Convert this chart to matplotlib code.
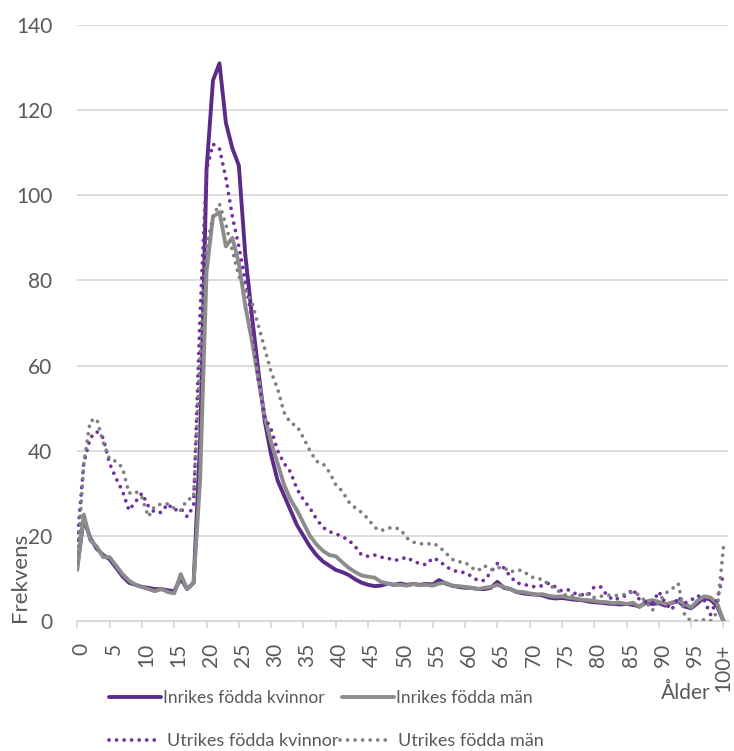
import numpy as np
import matplotlib.pyplot as plt
from matplotlib.transforms import ScaledTranslation

plt.rcParams['font.family'] = ['Lato', 'DejaVu Sans']

# Ages 0..100 (100 = 100+)
ages = np.arange(101)
tick_ages = list(range(0, 101, 5))
tick_labels = [str(a) for a in range(0, 100, 5)] + ['100+']

# Inrikes födda kvinnor
inrikes_kvinnor = [
    13, 24, 19.5, 17, 15.5, 14.5, 12.5, 10.5, 9, 8.5,
    8, 7.8, 7.5, 7.5, 7.2, 7, 10, 7.5, 9, 42,
    106, 127, 131, 117, 111, 107, 86, 72, 59, 47,
    39, 33, 29.5, 26, 22.5, 20, 17.5, 15.5, 14, 13,
    12, 11.5, 10.8, 9.8, 9, 8.5, 8.2, 8.3, 8.8, 8.5,
    8.8, 8.5, 8.7, 8.5, 8.7, 8.6, 9.6, 8.8, 8.3, 8.0,
    7.8, 7.8, 7.5, 7.5, 7.8, 9.2, 7.8, 7.5, 6.8, 6.5,
    6.3, 6.2, 6.0, 5.5, 5.3, 5.4, 5.2, 5.0, 4.9, 4.6,
    4.4, 4.3, 4.1, 4.0, 3.9, 4.0, 3.8, 3.4, 4.3, 4.0,
    4.2, 3.6, 4.3, 4.6, 3.4, 3.0, 4.2, 5.5, 5.0, 3.5,
    0]

# Inrikes födda män
inrikes_man = [
    12, 25, 19, 17.5, 15, 15, 13, 11, 9.5, 8.5,
    8, 7.5, 7, 7.5, 6.8, 6.5, 11, 7.5, 9, 33,
    82, 95, 96, 88, 90, 84, 74, 66, 57, 48,
    42, 37, 32, 28.5, 26, 23, 20, 18, 16.5, 15.5,
    15.2, 13.8, 12.5, 11.5, 10.7, 10.4, 10.2, 9.2, 8.8, 8.5,
    8.5, 8.3, 8.7, 8.4, 8.5, 8.3, 8.8, 9.0, 8.3, 8.2,
    8.0, 7.8, 7.5, 7.8, 8.0, 8.5, 8.0, 7.5, 6.9, 6.8,
    6.5, 6.2, 6.3, 5.9, 5.7, 5.8, 5.5, 5.3, 5.0, 4.9,
    4.7, 4.5, 4.4, 4.2, 4.3, 4.0, 4.3, 3.3, 4.6, 4.9,
    4.5, 4.0, 4.2, 4.8, 4.0, 3.2, 4.8, 5.8, 5.5, 4.2,
    0]

# Utrikes födda kvinnor
utrikes_kvinnor = [
    19, 37, 43, 44.5, 43, 37, 33.5, 30.5, 26, 28,
    30, 27, 25.5, 25.5, 27.5, 26, 26.5, 24.5, 27, 72,
    106, 112, 111, 104, 95, 88, 80, 71, 57, 48,
    45, 40, 37, 35, 31, 28.5, 26.5, 24, 22, 21,
    20.5, 19.8, 19, 17.5, 15.5, 15.2, 15.5, 15, 14.8, 14.2,
    14.5, 15, 14, 13.5, 13.2, 14.8, 14.2, 12.8, 12, 11.5,
    11.4, 10.5, 9.5, 9.5, 11.5, 13.5, 12.5, 10.5, 8.9, 8.7,
    8.2, 8, 8.3, 8.9, 8.0, 7.0, 7.3, 6.5, 6.2, 6.0,
    8.0, 8.0, 6.0, 4.9, 5.5, 6.0, 7.5, 5.0, 4.5, 4.2,
    6.9, 4.2, 2.6, 5.7, 4.2, 4.9, 6.0, 5.0, 1.5, 5.0,
    11]

# Utrikes födda män
utrikes_man = [
    14, 37, 47, 47.5, 42, 38, 37.5, 36, 30, 30.5,
    29, 24.5, 27, 27.5, 27.5, 26.5, 26, 28.5, 29, 62,
    88, 95, 98, 93, 87, 81, 78, 75, 69.5, 64,
    58.5, 54.5, 49, 46.5, 45.8, 43, 40, 37.5, 37, 35,
    32, 30.5, 28, 26.6, 25.5, 24, 22, 21.2, 21.8, 22,
    21.5, 19.5, 18.5, 18.2, 18, 18.3, 17.5, 16, 14.5, 13.9,
    13.8, 12.5, 11.8, 13, 12, 12.5, 12.6, 11.5, 12, 11.8,
    10.5, 10, 9.8, 8.5, 7.5, 6.5, 5.8, 6.0, 6.1, 6.3,
    5.5, 5.8, 6.1, 6.0, 6.0, 6.3, 6.9, 6.0, 4.5, 2.5,
    4.5, 6.5, 7.5, 8.8, 1.3, 0, 0, 0.3, 0, 2,
    17.5]

purple = '#5B2C86'
purple_dot = '#7030A0'
grey = '#8C8C8C'
grey_dot = '#808080'
text_col = '#595959'
grid_col = '#D9D9D9'

fig = plt.figure(figsize=(7.34, 7.51), dpi=100)
ax = fig.add_axes([77.3 / 734, 130 / 751, 650.7 / 734, 596 / 751])

dot_style = (0, (0.01, 2.0))
ax.plot(ages, inrikes_kvinnor, color=purple, lw=2.8, solid_joinstyle='round',
        solid_capstyle='round', label='Inrikes födda kvinnor', zorder=3)
ax.plot(ages, inrikes_man, color=grey, lw=2.8, solid_joinstyle='round',
        solid_capstyle='round', label='Inrikes födda män', zorder=3)
ax.plot(ages, utrikes_kvinnor, color=purple_dot, lw=2.7, linestyle=dot_style,
        dash_capstyle='round', label='Utrikes födda kvinnor', zorder=3)
ax.plot(ages, utrikes_man, color=grey_dot, lw=2.7, linestyle=dot_style,
        dash_capstyle='round', label='Utrikes födda män', zorder=3)

ax.set_xlim(0, 100.7)
ax.set_ylim(0, 140)
ax.set_yticks(range(0, 141, 20))
ax.set_xticks(tick_ages)
ax.set_xticklabels(tick_labels, rotation=90)
ax.grid(axis='y', color=grid_col, lw=1.3)
ax.set_axisbelow(True)
for s in ['top', 'right', 'left']:
    ax.spines[s].set_visible(False)
ax.spines['bottom'].set_color(grid_col)
ax.spines['bottom'].set_linewidth(1.5)
ax.tick_params(axis='y', length=0, pad=18, labelsize=15, labelcolor=text_col)
ax.tick_params(axis='x', length=5, width=1.3, color=grid_col, pad=11,
               labelsize=15, labelcolor=text_col)
shift = ScaledTranslation(4 / 100, 0, fig.dpi_scale_trans)
for lab in ax.get_xticklabels()[:-1]:
    lab.set_horizontalalignment('center')
    lab.set_transform(lab.get_transform() + shift)

fig.text(20.5 / 734, 1 - 622 / 751, 'Frekvens', rotation=90, ha='center',
         va='bottom', fontsize=16, color=text_col)
fig.text(686 / 734, 1 - 693 / 751, 'Ålder', ha='center', va='center',
         fontsize=15, color=text_col)

h, l = ax.get_legend_handles_labels()
leg1 = fig.legend(h[:2], l[:2], loc='center left', ncol=2, frameon=False,
                  bbox_to_anchor=(102 / 734, 1 - 698 / 751), fontsize=12.5,
                  handlelength=3.0, handletextpad=0.1, columnspacing=1.0,
                  borderaxespad=0, labelcolor=text_col)
leg2 = fig.legend(h[2:], l[2:], loc='center left', ncol=2, frameon=False,
                  bbox_to_anchor=(102 / 734, 1 - 741 / 751), fontsize=13,
                  handlelength=2.8, handletextpad=0.4, columnspacing=0.1,
                  borderaxespad=0, labelcolor=text_col)

fig.savefig('out.png', dpi=100)
